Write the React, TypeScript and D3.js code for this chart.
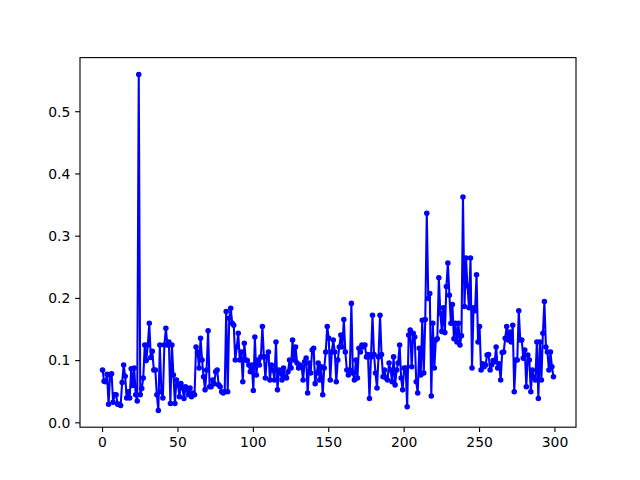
import React from "react";
import * as d3 from "d3";

const values: number[] = [
  0.085, 0.067, 0.066, 0.078, 0.030, 0.077, 0.079, 0.033, 0.045, 0.045,
  0.030, 0.030, 0.028, 0.065, 0.093, 0.075, 0.040, 0.050, 0.040, 0.087,
  0.060, 0.088, 0.045, 0.035, 0.560, 0.045, 0.055, 0.072, 0.125, 0.100,
  0.125, 0.160, 0.105, 0.115, 0.085, 0.085, 0.045, 0.020, 0.125, 0.050,
  0.040, 0.125, 0.152, 0.125, 0.130, 0.031, 0.125, 0.077, 0.031, 0.069,
  0.061, 0.042, 0.063, 0.056, 0.039, 0.058, 0.053, 0.045, 0.056, 0.042,
  0.048, 0.045, 0.122, 0.114, 0.088, 0.136, 0.101, 0.074, 0.053, 0.085,
  0.148, 0.058, 0.058, 0.069, 0.063, 0.082, 0.085, 0.061, 0.058, 0.050,
  0.048, 0.050, 0.179, 0.050, 0.168, 0.184, 0.160, 0.157, 0.101, 0.122,
  0.144, 0.101, 0.114, 0.066, 0.128, 0.101, 0.100, 0.093, 0.082, 0.093,
  0.052, 0.138, 0.077, 0.101, 0.093, 0.106, 0.155, 0.106, 0.072, 0.106,
  0.114, 0.069, 0.093, 0.085, 0.069, 0.130, 0.053, 0.085, 0.080, 0.069,
  0.088, 0.074, 0.072, 0.082, 0.101, 0.088, 0.133, 0.101, 0.122, 0.096,
  0.088, 0.093, 0.090, 0.069, 0.098, 0.104, 0.048, 0.096, 0.080, 0.117,
  0.120, 0.063, 0.080, 0.096, 0.069, 0.090, 0.045, 0.088, 0.114, 0.155,
  0.136, 0.069, 0.114, 0.133, 0.114, 0.066, 0.101, 0.122, 0.141, 0.122,
  0.166, 0.114, 0.085, 0.077, 0.085, 0.192, 0.080, 0.069, 0.101, 0.072,
  0.120, 0.114, 0.125, 0.122, 0.125, 0.106, 0.110, 0.039, 0.106, 0.173,
  0.110, 0.080, 0.056, 0.106, 0.173, 0.110, 0.074, 0.085, 0.072, 0.069,
  0.096, 0.085, 0.066, 0.106, 0.061, 0.085, 0.096, 0.125, 0.072, 0.053,
  0.088, 0.088, 0.026, 0.141, 0.149, 0.090, 0.144, 0.138, 0.066, 0.048,
  0.120, 0.077, 0.165, 0.080, 0.166, 0.337, 0.200, 0.208, 0.043, 0.160,
  0.088, 0.133, 0.135, 0.233, 0.176, 0.147, 0.185, 0.145, 0.219, 0.257,
  0.205, 0.160, 0.190, 0.135, 0.160, 0.130, 0.160, 0.125, 0.140, 0.363,
  0.187, 0.265, 0.220, 0.185, 0.265, 0.088, 0.185, 0.180, 0.238, 0.130,
  0.155, 0.085, 0.095, 0.090, 0.093, 0.109, 0.110, 0.085, 0.093, 0.100,
  0.098, 0.122, 0.088, 0.095, 0.069, 0.113, 0.114, 0.136, 0.155, 0.133,
  0.146, 0.130, 0.157, 0.050, 0.101, 0.101, 0.180, 0.133, 0.133, 0.104,
  0.117, 0.058, 0.109, 0.101, 0.050, 0.085, 0.072, 0.069, 0.130, 0.039,
  0.130, 0.069, 0.144, 0.195, 0.122, 0.114, 0.085, 0.114, 0.090, 0.074,
];

const xTicks: number[] = [0, 50, 100, 150, 200, 250, 300];
const yTicks: number[] = [0.0, 0.1, 0.2, 0.3, 0.4, 0.5];

const W = 640;
const H = 480;
const left = 80;
const right = 576;
const top = 57.6;
const bottom = 427.2;

export default function App() {
  const n = values.length;
  const xMin = 0;
  const xMax = n - 1;
  const xPad = (xMax - xMin) * 0.05;
  const yMinV = d3.min(values) as number;
  const yMaxV = d3.max(values) as number;
  const yPad = (yMaxV - yMinV) * 0.05;

  const x = d3.scaleLinear().domain([xMin - xPad, xMax + xPad]).range([left, right]);
  const y = d3.scaleLinear().domain([yMinV - yPad, yMaxV + yPad]).range([bottom, top]);

  const line = d3
    .line<number>()
    .x((_, i) => x(i))
    .y((d) => y(d));

  const font = "'DejaVu Sans', sans-serif";
  const tickLen = 4.86;
  const color = "#0000ff";

  return (
    <svg
      width={W}
      height={H}
      style={{ position: "absolute", left: 0, top: 0, background: "#fff" }}
    >
      <rect x={0} y={0} width={W} height={H} fill="#fff" />
      <path d={line(values) || ""} fill="none" stroke={color} strokeWidth={2.08} strokeLinejoin="round" strokeLinecap="square" />
      {values.map((v, i) => (
        <circle key={i} cx={x(i)} cy={y(v)} r={2.08} fill={color} stroke={color} strokeWidth={1.39} />
      ))}
      <rect x={left} y={top} width={right - left} height={bottom - top} fill="none" stroke="#000" strokeWidth={1.11} />
      {xTicks.map((t) => (
        <g key={"x" + t}>
          <line x1={x(t)} x2={x(t)} y1={bottom} y2={bottom + tickLen} stroke="#000" strokeWidth={1.11} />
          <text x={x(t)} y={bottom + tickLen + 4.86 + 10.5} textAnchor="middle" fontFamily={font} fontSize={13.9} fill="#000">
            {t}
          </text>
        </g>
      ))}
      {yTicks.map((t) => (
        <g key={"y" + t}>
          <line x1={left - tickLen} x2={left} y1={y(t)} y2={y(t)} stroke="#000" strokeWidth={1.11} />
          <text x={left - tickLen - 4.86} y={y(t)} dy="0.35em" textAnchor="end" fontFamily={font} fontSize={13.9} fill="#000">
            {t.toFixed(1)}
          </text>
        </g>
      ))}
    </svg>
  );
}
